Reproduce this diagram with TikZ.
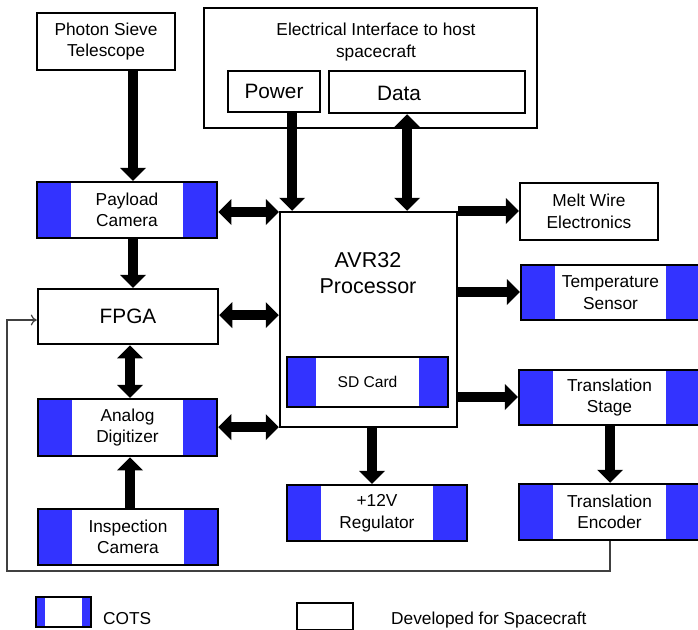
\documentclass[tikz,border=0pt]{standalone}
\usepackage{fontspec}
\setmainfont{Liberation Sans}
\usetikzlibrary{arrows.meta}
\definecolor{cotsblue}{RGB}{51,51,255}
\newcommand\lblfont{\fontsize{17.3}{21.5}\selectfont}
\newcommand\bigfont{\fontsize{20.8}{25}\selectfont}
\newcommand\avrfont{\fontsize{21.5}{26}\selectfont}
\newcommand\sdfont{\fontsize{15.6}{19}\selectfont}
\begin{document}
\begin{tikzpicture}[x=1pt,y=-1pt,
  box/.style={draw=black, line width=2.5pt, inner sep=0pt, align=center, font=\lblfont},
  txt/.style={inner sep=0pt, align=center, font=\lblfont},
  cots/.style={box, path picture={
      \fill[cotsblue] (path picture bounding box.south west) rectangle ([xshift=#1]path picture bounding box.north west);
      \fill[cotsblue] (path picture bounding box.south east) rectangle ([xshift=-#1]path picture bounding box.north east);}},
  cots/.default=34pt,
  tipx/.tip={Triangle[length=13pt,width=26pt,line width=0pt]},
  bigarrow/.style={line width=10.5pt, -tipx},
  bigdouble/.style={line width=10.5pt, tipx-tipx},
  fbline/.style={line width=1.2pt, draw=black!75, -{To[length=6pt,width=11pt]}}
]
\useasboundingbox (0,0) rectangle (698,629);

% top blocks
\node[box, minimum width=138pt, minimum height=57pt] (photon) at (106,41.5) {Photon Sieve\\Telescope};
\node[box, line width=2.8pt, minimum width=333pt, minimum height=120pt] (elec) at (370.5,68) {};
\node[txt] (electext) at (376,42) {Electrical Interface to host\\spacecraft};
\node[box, font=\bigfont, minimum width=92pt, minimum height=41pt] (power) at (274,91.5) {Power};
\node[box, minimum width=196pt, minimum height=42pt] (data) at (427,92) {};
\node[txt, font=\bigfont] (datatext) at (399,93) {Data};

% left column
\node[cots, minimum width=180pt, minimum height=56pt] (payload) at (127,210) {Payload\\Camera};
\node[box, font=\bigfont, minimum width=180pt, minimum height=55pt] (fpga) at (128,316.5) {FPGA};
\node[cots, minimum width=179pt, minimum height=57pt] (analog) at (127.5,427.5) {Analog\\Digitizer};
\node[cots, minimum width=180pt, minimum height=56pt] (insp) at (128,537) {Inspection\\Camera};

% processor
\node[box, minimum width=177pt, minimum height=215pt] (avr) at (368.5,319.5) {};
\node[txt, font=\avrfont] (avrtext) at (368,273.5) {AVR32\\Processor};
\node[cots=29pt, font=\sdfont, minimum width=161pt, minimum height=50pt] (sd) at (367.5,382) {SD Card};
\node[cots, minimum width=180pt, minimum height=56pt] (reg) at (377,513) {+12V\\Regulator};

% right column
\node[box, minimum width=138pt, minimum height=57pt] (melt) at (589,211.5) {Melt Wire\\Electronics};
\node[cots, minimum width=179pt, minimum height=55pt] (temp) at (610.5,292.5) {Temperature\\Sensor};
\node[cots, minimum width=181pt, minimum height=55pt] (stage) at (609.5,397.5) {Translation\\Stage};
\node[cots, minimum width=181pt, minimum height=56pt] (enc) at (609.5,512) {Translation\\Encoder};

% legend
\node[cots=9pt, minimum width=55pt, minimum height=30pt] (legcots) at (63.5,612) {};
\node[txt, anchor=base west] (legcotstext) at (103,624) {COTS};
\node[box, minimum width=56pt, minimum height=27pt] (legdev) at (325,616.5) {};
\node[txt, anchor=base west] (legdevtext) at (391,624) {Developed for Spacecraft};

% thick arrows
\draw[bigarrow] (133,0 |- photon.south) -- (133,0 |- payload.north);
\draw[bigarrow] (133,0 |- payload.south) -- (133,0 |- fpga.north);
\draw[bigdouble] (130,0 |- fpga.south) -- (130,0 |- analog.north);
\draw[bigarrow] (130,0 |- insp.north) -- (130,0 |- analog.south);
\draw[bigarrow] (292,0 |- power.south) -- (292,0 |- avr.north);
\draw[bigdouble] (407,0 |- data.south) -- (407,0 |- avr.north);
\draw[bigdouble] (payload.east |- 0,212) -- (avr.west |- 0,212);
\draw[bigdouble] (fpga.east |- 0,315) -- (avr.west |- 0,315);
\draw[bigdouble] (analog.east |- 0,427) -- (avr.west |- 0,427);
\draw[bigarrow] (avr.east |- 0,211) -- (melt.west |- 0,211);
\draw[bigarrow] (avr.east |- 0,292) -- (temp.west |- 0,292);
\draw[bigarrow] (avr.east |- 0,397) -- (stage.west |- 0,397);
\draw[bigarrow] (372,0 |- avr.south) -- (372,0 |- reg.north);
\draw[bigarrow] (610,0 |- stage.south) -- (610,0 |- enc.north);

% feedback line
\coordinate (fbr) at (610,571);
\coordinate (fbl) at (7,571);
\coordinate (fbt) at (7,320);
\draw[fbline] (610,0 |- enc.south) -- (fbr) -- (fbl) -- (fbt) -- (fpga.west |- fbt);
\end{tikzpicture}
\end{document}
